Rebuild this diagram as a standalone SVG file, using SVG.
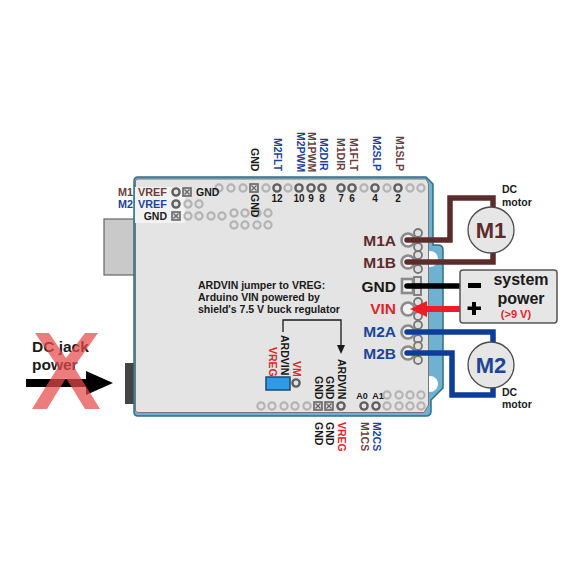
<svg xmlns="http://www.w3.org/2000/svg" width="585" height="585" viewBox="0 0 585 585">
<style>
text{font-family:"Liberation Sans",Arial,sans-serif;font-weight:bold;fill:#1a1a1a}
.v{font-size:10.500px}
.br{fill:#6b3d3d}.bl{fill:#1c4596}.rd{fill:#e0252b}
.h{fill:#e4e4e4;stroke:#b4b4b4;stroke-width:2.2}
.d{fill:#e4e4e4;stroke:#5f5f5f;stroke-width:2.4}
.s{fill:#d8d8d8;stroke:#666;stroke-width:1.6}
.t{font-size:15.500px;text-anchor:end}
.w{fill:none;stroke-width:5.500;stroke-linecap:round}
.lobe{fill:#e0e0e0;stroke:#777;stroke-width:1.8}
.pad{fill:#f2f2f2;stroke:#8a8a8a;stroke-width:2.6}
.m{fill:#e6e6e6;stroke:#4a4a4a;stroke-width:1.3}
.mt{font-size:22px;text-anchor:middle}
.l{font-size:10.500px}
.c{font-size:10px;text-anchor:middle}
.b{font-size:16px;text-anchor:middle}
</style>
<defs>
<g id="sq"><rect x="-4" y="-4" width="8" height="8" class="s"/><path d="M-2.5-2.5 2.5 2.5M2.5-2.5-2.5 2.5" stroke="#666" stroke-width="1.2"/></g>
<g id="term"><circle cx="10" cy="-7" r="4" class="lobe"/><circle cx="10" cy="7" r="4" class="lobe"/><circle cx="0" cy="0" r="6.500" class="pad"/></g>
</defs>
<rect width="585" height="585" fill="#fff"/>
<g id="power-connector"><rect x="104" y="219" width="31" height="56" fill="#c9c9c9" stroke="#666" stroke-width="1.2"/></g>
<g id="dc-jack"><rect x="125" y="363" width="10" height="41" fill="#444"/></g>
<g id="board">
<path d="M134 181Q134 177 138 177H426L433 184V245H438Q443 245 443 250V388L431 400V411Q431 416 426 416H138Q134 416 134 412Z" fill="#6fb1d0" stroke="#2f6f85" stroke-width="1.5"/>
<circle cx="430" cy="259" r="8" fill="#fff"/>
<circle cx="430" cy="384" r="8" fill="#fff"/>
<path d="M135.500 181Q135.500 179 138 179H426L428.500 184V405L424 412.500H138Q135.500 412.500 135.500 410Z" fill="#e4e4e4" stroke="#777" stroke-width="1"/>
<rect x="135" y="187" width="50" height="36" fill="#f2f2f2"/>
</g>
<g id="pins">
<g id="top-row">
<circle cx="219" cy="188" r="3.600" class="h"/><circle cx="231" cy="188" r="3.600" class="h"/><circle cx="243" cy="188" r="3.600" class="h"/><use href="#sq" x="254" y="188"/><circle cx="266" cy="188" r="3.600" class="h"/><circle cx="277" cy="188" r="3.600" class="d"/><circle cx="288" cy="188" r="3.600" class="h"/><circle cx="299" cy="188" r="3.600" class="d"/><circle cx="311" cy="188" r="3.600" class="d"/><circle cx="322" cy="188" r="3.600" class="d"/><circle cx="341" cy="188" r="3.600" class="d"/><circle cx="352" cy="188" r="3.600" class="d"/><circle cx="364" cy="188" r="3.600" class="h"/><circle cx="375" cy="188" r="3.600" class="d"/><circle cx="387" cy="188" r="3.600" class="h"/><circle cx="398" cy="188" r="3.600" class="d"/><circle cx="410" cy="188" r="3.600" class="h"/><circle cx="421" cy="188" r="3.600" class="h"/>
</g>
<g id="left-rows">
<circle cx="176" cy="192" r="3.600" class="d"/><use href="#sq" x="187" y="192"/>
<circle cx="176" cy="204" r="3.600" class="d"/><circle cx="188" cy="204" r="3.600" class="h"/><circle cx="199" cy="204" r="3.600" class="h"/>
<use href="#sq" x="176" y="216"/><circle cx="188" cy="216" r="3.600" class="h"/><circle cx="199" cy="216" r="3.600" class="h"/><circle cx="211" cy="216" r="3.600" class="h"/><circle cx="222" cy="216" r="3.600" class="h"/>
<circle cx="234" cy="213" r="3.600" class="h"/><circle cx="245" cy="213" r="3.600" class="h"/><circle cx="257" cy="213" r="3.600" class="h"/><circle cx="268" cy="213" r="3.600" class="h"/>
<circle cx="234" cy="225" r="3.600" class="h"/><circle cx="245" cy="225" r="3.600" class="h"/><circle cx="257" cy="225" r="3.600" class="h"/><circle cx="268" cy="225" r="3.600" class="h"/>
</g>
<g id="bottom-rows">
<circle cx="261" cy="406" r="3.600" class="h"/><circle cx="272" cy="406" r="3.600" class="h"/><circle cx="284" cy="406" r="3.600" class="h"/><circle cx="295" cy="406" r="3.600" class="h"/><circle cx="307" cy="406" r="3.600" class="h"/><use href="#sq" x="318" y="406"/><use href="#sq" x="329" y="406"/><circle cx="341" cy="406" r="3.600" class="d"/><circle cx="364" cy="406" r="3.600" class="d"/><circle cx="376" cy="406" r="3.600" class="d"/><circle cx="387" cy="406" r="3.600" class="h"/><circle cx="399" cy="406" r="3.600" class="h"/><circle cx="410" cy="406" r="3.600" class="h"/><circle cx="421" cy="406" r="3.600" class="h"/>
<circle cx="387" cy="395" r="3.600" class="h"/><circle cx="399" cy="395" r="3.600" class="h"/><circle cx="410" cy="395" r="3.600" class="h"/><circle cx="421" cy="395" r="3.600" class="h"/>
</g>
</g>
<g id="terminals">
<use id="t-m1a" href="#term" x="408" y="240"/>
<use id="t-m1b" href="#term" x="408" y="262"/>
<g id="t-gnd"><rect x="414" y="277" width="7" height="7" class="lobe"/><rect x="414" y="288" width="7" height="7" class="lobe"/><rect x="402" y="279" width="11" height="14" class="pad"/></g>
<use id="t-vin" href="#term" x="408" y="309"/>
<use id="t-m2a" href="#term" x="408" y="332"/>
<use id="t-m2b" href="#term" x="408" y="353"/>
</g>
<g id="jumper"><rect x="266" y="377" width="24" height="13" fill="#2f9be8" stroke="#1d4a70" stroke-width="1.500"/><circle cx="296" cy="383" r="3.600" class="d"/></g>
<g id="connectors">
<path class="w" stroke="#5c2c2c" d="M407 240H450V198H493V210M407 262H493V252"/>
<path class="w" stroke="#0d3d96" d="M407 332H493V344M407 353H452V395H493V386"/>
<path d="M407 286H462" stroke="#000" stroke-width="5.500" stroke-linecap="round" fill="none"/>
<path d="M427 306H462V312H427V317L410 309 427 301Z" fill="#ee1c25"/>
<path d="M283 332V320H341V346" fill="none" stroke="#1a1a1a" stroke-width="1.300"/>
<path d="M337 345H345L341 354Z" fill="#1a1a1a"/>
<path d="M26 379H86V371L113 383 86 395V387H26Z" fill="#000"/>
</g>
<g id="motor-m1"><circle cx="491" cy="230" r="23" class="m"/><text x="491" y="238" class="mt" style="fill:#5c2c2c">M1</text></g>
<g id="motor-m2"><circle cx="491" cy="365" r="23" class="m"/><text x="491" y="373" class="mt bl">M2</text></g>
<g id="system-power"><rect x="460" y="270" width="97" height="53" rx="3" fill="#e6e6e6" stroke="#555" stroke-width="1.500"/>
<rect x="468" y="283" width="13" height="5" fill="#000"/><path d="M472 302H476V306.500H481V310H476V315H472V310H467.500V306.500H472Z" fill="#000"/>
<text x="521" y="285" class="b">system</text><text x="521" y="304" class="b">power</text><text x="516" y="318" text-anchor="middle" class="rd" style="font-size:11px">(&gt;9 V)</text></g>
<g id="labels">
<text x="396" y="246" class="t" style="fill:#5c2c2c">M1A</text>
<text x="396" y="268" class="t" style="fill:#5c2c2c">M1B</text>
<text x="396" y="292" class="t">GND</text>
<text x="396" y="314" class="t rd">VIN</text>
<text x="396" y="337" class="t bl">M2A</text>
<text x="396" y="359" class="t bl">M2B</text>
<text x="502" y="193" class="l">DC</text><text x="502" y="206" class="l">motor</text>
<text x="502" y="396" class="l">DC</text><text x="502" y="408" class="l">motor</text>
<text x="118" y="196" class="br" style="font-size:10.800px">M1</text><text x="138" y="196" class="br" style="font-size:10.800px">VREF</text>
<text x="118" y="208" class="bl" style="font-size:10.800px">M2</text><text x="138" y="208" class="bl" style="font-size:10.800px">VREF</text>
<text x="167" y="220" text-anchor="end" class="l">GND</text>
<text x="196" y="196" class="l">GND</text>
<text x="198" y="289" class="l">ARDVIN jumper to VREG:</text>
<text x="198" y="301" class="l">Arduino VIN powered by</text>
<text x="198" y="312.500" class="l">shield's 7.5 V buck regulator</text>
<text x="277" y="202" class="c">12</text><text x="299" y="202" class="c">10</text><text x="311" y="202" class="c">9</text><text x="322" y="202" class="c">8</text><text x="341" y="202" class="c">7</text><text x="352" y="202" class="c">6</text><text x="375" y="202" class="c">4</text><text x="398" y="202" class="c">2</text>
<text x="362" y="399" text-anchor="middle" style="font-size:9px">A0</text><text x="378" y="399" text-anchor="middle" style="font-size:9px">A1</text>
<text class="v" transform="translate(250.500 148) rotate(90)">GND</text>
<text class="v" transform="translate(250.500 194) rotate(90)">GND</text>
<text class="v bl" transform="translate(273.500 138) rotate(90)">M2FLT</text>
<text class="v bl" transform="translate(296.500 132) rotate(90)">M2PWM</text>
<text class="v br" transform="translate(307.500 132) rotate(90)">M1PWM</text>
<text class="v bl" transform="translate(319.500 138) rotate(90)">M2DIR</text>
<text class="v br" transform="translate(336.500 138) rotate(90)">M1DIR</text>
<text class="v br" transform="translate(349.500 138) rotate(90)">M1FLT</text>
<text class="v bl" transform="translate(372.500 136) rotate(90)">M2SLP</text>
<text class="v br" transform="translate(395.500 136) rotate(90)">M1SLP</text>
<text class="v" transform="translate(280.500 335) rotate(90)">ARDVIN</text>
<text class="v rd" transform="translate(268.500 347) rotate(90)">VREG</text>
<text class="v rd" transform="translate(292.500 361) rotate(90)">VM</text>
<text class="v" transform="translate(314.500 376) rotate(90)">GND</text>
<text class="v" transform="translate(325.500 376) rotate(90)">GND</text>
<text class="v" transform="translate(337.500 359) rotate(90)">ARDVIN</text>
<text class="v" transform="translate(314.500 422) rotate(90)">GND</text>
<text class="v" transform="translate(325.500 422) rotate(90)">GND</text>
<text class="v rd" transform="translate(337.500 422) rotate(90)">VREG</text>
<text class="v br" transform="translate(360.500 422) rotate(90)">M1CS</text>
<text class="v bl" transform="translate(372.500 422) rotate(90)">M2CS</text>
</g>
<g id="dc-jack-power">
<text x="32" y="352" style="font-size:15.500px">DC jack</text><text x="32" y="370" style="font-size:15.500px">power</text>
<path d="M35 333H49L66 358 85 333H98L74 367 100 409H85L66 378 47 409H32L58 367Z" fill="#e64a4a" opacity=".72"/>
</g>
</svg>
